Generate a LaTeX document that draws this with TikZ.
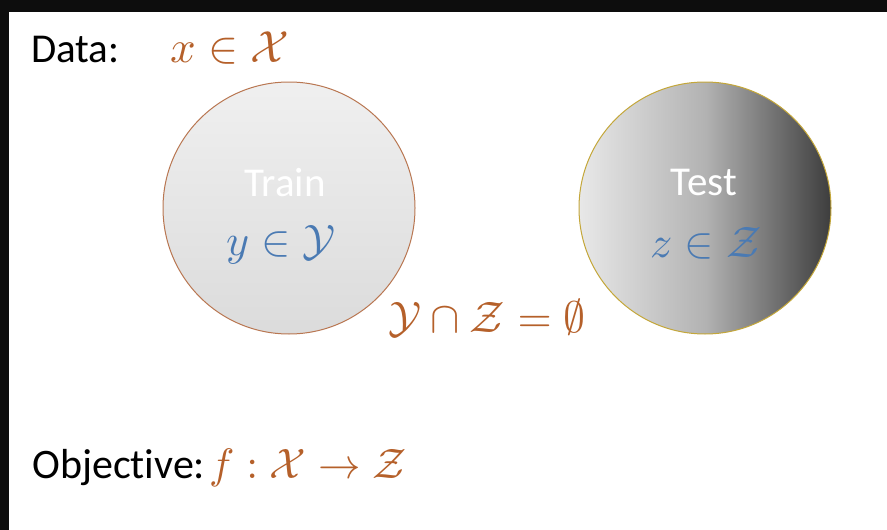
\documentclass[tikz,border=0pt]{standalone}
\usepackage[no-math]{fontspec}
\usepackage{graphicx}
\setmainfont[Ligatures=NoCommon]{Carlito}
\newcommand{\bigmath}[2][4.4]{\scalebox{#1}{$#2$}}
\begin{document}
\begin{tikzpicture}[x=1pt,y=-1pt,
  txt/.style={anchor=base, inner sep=0pt, font=\fontsize{41}{48}\selectfont},
  mth/.style={anchor=base, inner sep=0pt},
  setcirc/.style={circle, minimum size=252pt, inner sep=0pt, line width=1pt}]
\definecolor{orng}{HTML}{B5602A}
\definecolor{blu}{HTML}{4A7AB3}
\definecolor{trainline}{HTML}{B97752}
\definecolor{testline}{HTML}{C4A73A}
\useasboundingbox (0,0) rectangle (887,530);
\fill[white] (0,0) rectangle (887,530);
\fill[black!95] (0,0) rectangle (887,12);
\fill[black!95] (0,0) rectangle (9,530);
% circles
\node[setcirc, draw=trainline, top color=black!6, bottom color=black!14] (train) at (289,208) {};
\node[setcirc, draw=testline, left color=black!9, right color=black!76, middle color=black!30] (test) at (705,208) {};
% texts
\node[txt, anchor=base west] (data) at (31,62) {Data:};
\node[mth, anchor=base west, text=orng] (xdata) at (170,62) {\bigmath[4.5]{x\in\mathcal{X}}};
\node[txt, text=white] (trainlbl) at (285,196) {Train};
\node[mth, text=blu] (ylbl) at (281,255) {\bigmath{y\in\mathcal{Y}}};
\node[txt, text=white] (testlbl) at (704,195) {Test};
\node[mth, text=blu] (zlbl) at (706,257) {\bigmath{z\in\mathcal{Z}}};
\node[mth, text=orng] (inter) at (487,332) {\bigmath{\mathcal{Y}\cap\mathcal{Z}=\emptyset}};
\node[txt, anchor=base west, font=\fontsize{42}{50}\selectfont] (obj) at (32,478) {Objective:};
\node[mth, anchor=base west, text=orng] (fobj) at (209,478) {\bigmath[4.25]{f:\mathcal{X}\rightarrow\mathcal{Z}}};
\end{tikzpicture}
\end{document}
